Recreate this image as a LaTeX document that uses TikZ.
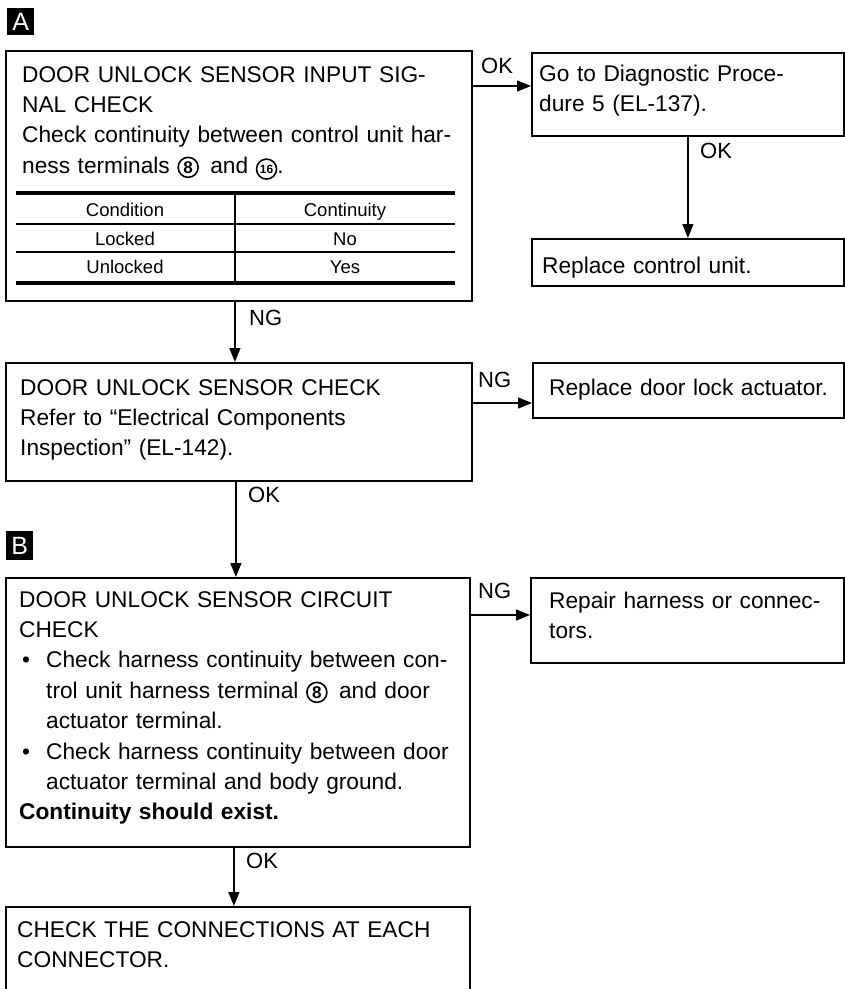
\documentclass[tikz,border=0pt]{standalone}
\usepackage{fontspec}
\setmainfont{Liberation Sans}
\usetikzlibrary{arrows.meta}

\newcommand{\circnum}[2][17]{\tikz[baseline=(cn.base)]\node[circle,draw,line width=1.6pt,inner sep=0pt,minimum size=20pt,font=\fontsize{#1}{#1}\selectfont\bfseries](cn){#2};}
\newcommand{\bul}{\makebox[27pt][l]{\hspace{3pt}\textbullet}}
\newcommand{\ind}{\hspace*{27pt}}

\begin{document}
\begin{tikzpicture}[x=1pt,y=-1pt,
  box/.style={draw,line width=1.8pt,anchor=north west,inner sep=0pt},
  txt/.style={anchor=base west,inner sep=0pt,text width=#1,align=left,font=\fontsize{22.7}{30.4}\selectfont},
  txt/.default=445pt,
  lbl/.style={anchor=base west,inner sep=0pt,font=\fontsize{22}{22}\selectfont},
  cell/.style={anchor=base,inner sep=0pt,font=\fontsize{18.5}{18.5}\selectfont},
  tag/.style={anchor=north west,fill=black,text=white,minimum width=27pt,minimum height=27pt,inner sep=0pt,font=\fontsize{25}{25}\selectfont},
  arr/.style={line width=1.3pt,-{Triangle[length=14pt,width=11pt]}}]
  \useasboundingbox (0,0) rectangle (845,989);
  \clip (0,0) rectangle (845,989);

  % part A
  \node[tag] (tagA) at (7,8) {A};
  \node[box,minimum width=466pt,minimum height=250pt] (b1) at (5,50) {};
  \node[txt] (t1) at (22,82) {DOOR UNLOCK SENSOR INPUT SIG-\\NAL CHECK\\Check continuity between control unit har-\\ness terminals \circnum{8}\enspace and \circnum[12]{16}.};
  \draw[line width=3.2pt] (16,193) -- (455,193) (16,283) -- (455,283);
  \draw[line width=1.6pt] (16,224) -- (455,224) (16,252) -- (455,252);
  \draw[line width=1.2pt] (235,193) -- (235,283);
  \foreach \y/\c/\v [count=\i] in {216/Condition/Continuity, 245/Locked/No, 273/Unlocked/Yes}{
    \node[cell] (c\i) at (125,\y) {\c};
    \node[cell] (v\i) at (345,\y) {\v};
  }

  \node[box,minimum width=312pt,minimum height=83pt] (go) at (531,52) {};
  \node[txt=300pt] (tgo) at (539,81) {Go to Diagnostic Proce-\\dure 5 (EL-137).};
  \node[box,minimum width=312pt,minimum height=47pt] (rep) at (531,238) {};
  \node[txt=300pt] (trep) at (542,273) {Replace control unit.};

  \draw[arr] ([yshift=-36pt]b1.north east) -- ([yshift=-34pt]go.north west);
  \node[lbl] (ok1) at (481,73) {OK};
  \draw[arr] (go.south) -- (rep.north);
  \node[lbl] (ok2) at (700,158) {OK};

  \node[box,minimum width=466pt,minimum height=118pt] (b2) at (5,362) {};
  \node[txt] (t2) at (20,395) {DOOR UNLOCK SENSOR CHECK\\Refer to “Electrical Components\\Inspection” (EL-142).};
  \coordinate (p1) at ([xshift=-4pt]b1.south);
  \draw[arr] (p1) -- (p1 |- b2.north);
  \node[lbl] (ng1) at (249,325) {NG};
  \node[box,minimum width=311pt,minimum height=55pt] (act) at (532,362) {};
  \node[txt=300pt] (tact) at (549,395) {Replace door lock actuator.};
  \draw[arr] ([yshift=-41pt]b2.north east) -- ([yshift=-41pt]act.north west);
  \node[lbl] (ng2) at (478,387) {NG};

  % part B
  \node[tag,minimum height=29pt] (tagB) at (6,531) {B};
  \node[box,minimum width=464pt,minimum height=269pt] (b3) at (5,577) {};
  \node[txt] (t3) at (19,607) {DOOR UNLOCK SENSOR CIRCUIT\\CHECK\\
    \bul Check harness continuity between con-\\
    \ind trol unit harness terminal \circnum{8}\enspace and door\\
    \ind actuator terminal.\\
    \bul Check harness continuity between door\\
    \ind actuator terminal and body ground.\\
    \textbf{Continuity should exist.}};
  \coordinate (p2) at ([xshift=-3pt]b2.south);
  \draw[arr] (p2) -- (p2 |- b3.north);
  \node[lbl] (ok3) at (248,502) {OK};
  \node[box,minimum width=313pt,minimum height=85pt] (har) at (530,577) {};
  \node[txt=300pt] (thar) at (549,608) {Repair harness or connec-\\tors.};
  \draw[arr] ([yshift=-38pt]b3.north east) -- ([yshift=-38pt]har.north west);
  \node[lbl] (ng3) at (478,598) {NG};

  \node[box,minimum width=464pt,minimum height=100pt] (b4) at (5,906) {};
  \node[txt] (t4) at (17,937) {CHECK THE CONNECTIONS AT EACH\\CONNECTOR.};
  \coordinate (p3) at ([xshift=-4pt]b3.south);
  \draw[arr] (p3) -- (p3 |- b4.north);
  \node[lbl] (ok4) at (246,868) {OK};
\end{tikzpicture}
\end{document}
